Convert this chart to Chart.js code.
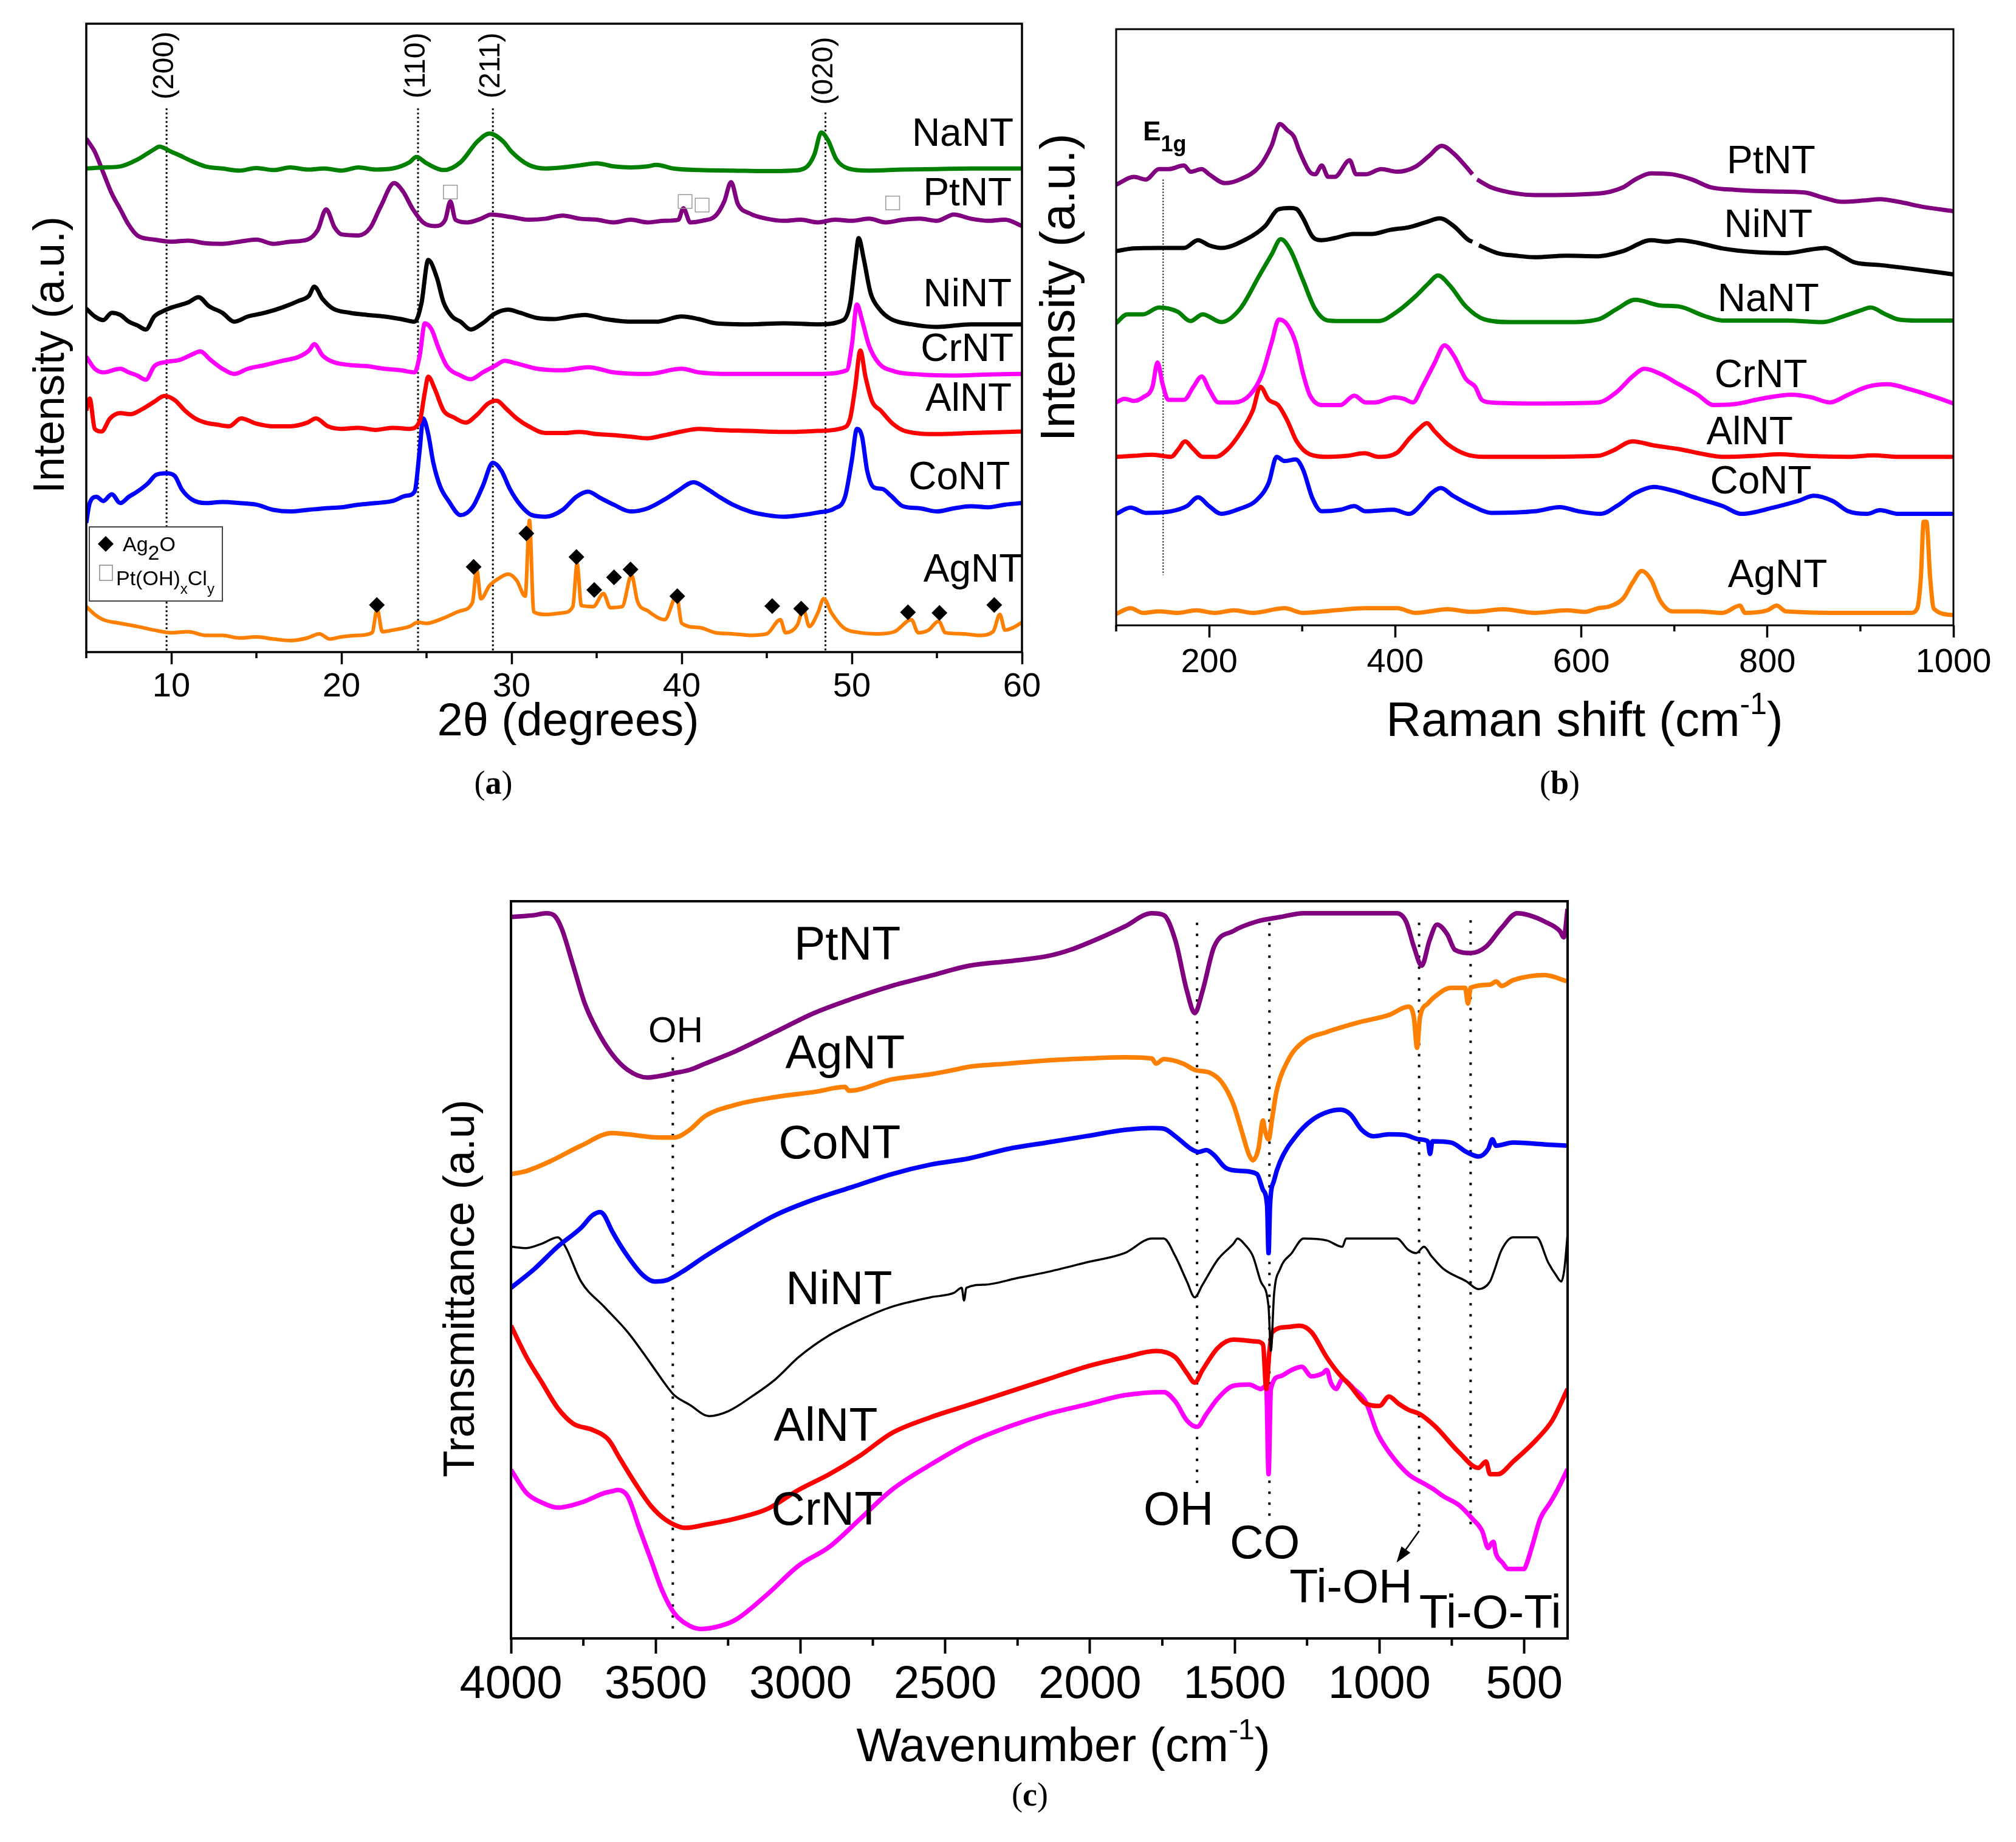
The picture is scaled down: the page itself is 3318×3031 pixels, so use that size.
<!DOCTYPE html>
<html>
<head>
<meta charset="utf-8">
<script src="https://cdn.jsdelivr.net/npm/chart.js@4"></script>
<style>
  body { margin: 0; background: #fff; }
  #page { position: relative; width: 3318px; height: 3031px; background: #fff; overflow: hidden; }
  canvas { position: absolute; }
</style>
</head>
<body>
<div id="page">
  <canvas id="xrd" width="1760" height="1340" style="left:0;top:0"></canvas>
  <canvas id="raman" width="1618" height="1340" style="left:1700px;top:0"></canvas>
  <canvas id="ftir" width="2118" height="1631" style="left:600px;top:1400px"></canvas>
</div>
<script>
// ---------- (a) XRD, 2theta vs stacked intensity (a.u.) ----------
const xrdTicks = [10, 20, 30, 40, 50, 60];
const xrdMinor = [5, 15, 25, 35, 45, 55];
const xrdNa = [[5,925],[6,927],[7,929],[8,942],[9,962],[9.3,967],[10,957],[10.5,950],[11,942],[12,929],[13,925],[14,921],[15,926],[16,922],[17,927],[18,923],[19,925],[20,921],[21,927],[22,923],[23,925],[24,937],[24.4,947],[25,935],[26,922],[27,937],[28,977],[28.7,992],[29.5,977],[30,957],[31,932],[32,925],[33,927],[34,931],[35,935],[36,929],[37,927],[38,929],[38.5,932],[39.5,925],[41,922],[43,921],[45,920],[46.5,921],[47.3,927],[47.8,952],[48.2,994],[48.6,979],[49.1,942],[49.8,925],[51,921],[53,923],[55,924],[57,925],[60,925]];
const xrdPt = [[5,982],[5.5,957],[6,917],[6.5,877],[7,847],[7.5,817],[8,797],[9,789],[10,785],[11,787],[12,782],[13,781],[14,785],[15,789],[16,781],[17,785],[18,789],[18.6,807],[19.1,847],[19.6,812],[20,799],[21,797],[21.7,812],[22.3,852],[23.1,897],[23.6,882],[24.2,847],[24.8,822],[25.5,815],[26.1,827],[26.4,862],[26.7,827],[27.4,822],[28.2,829],[28.8,837],[30,832],[31,827],[32,829],[33,835],[34,829],[35,827],[36,822],[37,827],[38,822],[39,825],[39.8,827],[40.1,849],[40.5,822],[41.2,825],[42,835],[42.5,862],[42.9,899],[43.3,857],[44,839],[45,829],[46,825],[47,827],[48,822],[49,827],[50,825],[51,829],[52,822],[53,827],[54,829],[55,825],[56,837],[57,829],[58,825],[59,827],[60,815]];
const xrdNi = [[5,657],[5.5,642],[6,635],[6.5,649],[7,645],[7.5,632],[8,625],[8.5,617],[9,642],[9.5,652],[10,659],[11,669],[11.6,679],[12.2,662],[13,649],[13.7,632],[14.5,642],[15.5,649],[16.5,659],[17.5,672],[18.1,682],[18.4,699],[18.9,675],[19.5,657],[20.5,649],[21.5,645],[22.5,642],[23.5,637],[24.3,632],[24.7,667],[25.1,750],[25.6,717],[26,669],[26.5,642],[27,632],[27.6,617],[28.3,629],[29,647],[29.8,655],[30.5,649],[31.5,639],[32.5,637],[33.5,642],[34.3,645],[35.5,637],[37,632],[38.5,632],[40,642],[41,637],[42,629],[44,627],[46,629],[48,627],[49.5,635],[49.9,667],[50.2,747],[50.4,792],[50.7,752],[51.1,687],[51.6,657],[52.3,637],[53.5,627],[55,622],[57,627],[60,627]];
const xrdCr = [[5,565],[5.5,542],[6,535],[7,542],[7.5,535],[8,529],[8.5,521],[9,547],[9.7,555],[10.5,559],[11.2,569],[11.7,575],[12.3,559],[13,542],[13.7,532],[14.5,542],[15.5,549],[16.5,557],[17.5,565],[18.1,577],[18.4,589],[18.9,567],[19.5,555],[20.5,549],[21.5,547],[22.5,542],[23.5,539],[24.3,535],[24.6,567],[24.9,629],[25.3,617],[25.7,582],[26.2,547],[27,529],[27.6,522],[28.3,535],[29,547],[29.6,557],[30.3,552],[31.5,542],[33,539],[34.5,545],[36,535],[38,532],[40,542],[41,535],[43,532],[45,532],[48,532],[49.7,539],[50,587],[50.3,665],[50.6,635],[51,587],[51.6,552],[52.5,537],[54,531],[56,529],[58,531],[60,532]];
const xrdAl = [[5,462],[5.2,485],[5.5,427],[5.9,422],[6.4,447],[7,457],[7.6,455],[8.3,465],[9,479],[9.6,490],[10.2,482],[10.8,462],[11.4,447],[12,439],[12.7,435],[13.4,432],[14.1,447],[15,437],[16,432],[17,432],[18,439],[18.5,447],[19.2,432],[20,427],[21,429],[22,425],[23,429],[24,427],[24.6,442],[24.9,497],[25.1,527],[25.5,502],[26,462],[26.6,449],[27.3,439],[28,455],[28.6,475],[29.1,481],[29.7,465],[30.3,447],[31,432],[32,419],[33,419],[34,421],[35,417],[36,415],[37,412],[38,409],[39,415],[40,422],[41,427],[42,425],[44,423],[46,421],[48,423],[49.5,429],[49.9,447],[50.2,507],[50.5,577],[50.8,527],[51.2,479],[51.7,462],[52.4,437],[53.2,422],[55,417],[57,419],[60,422]];
const xrdCo = [[5,247],[5.2,285],[5.6,297],[6,289],[6.5,302],[7,285],[7.5,297],[8,307],[8.6,322],[9.1,339],[9.7,342],[10.2,337],[10.6,312],[11.2,292],[12,285],[13,287],[14,285],[15,282],[16,272],[17,269],[18,272],[19,275],[20,277],[21,282],[22,285],[23,289],[23.8,299],[24.3,307],[24.6,387],[24.8,447],[25.1,417],[25.4,362],[25.8,317],[26.3,289],[27,262],[27.7,277],[28.3,317],[28.9,362],[29.4,347],[29.9,312],[30.5,282],[31.2,262],[32,259],[33,272],[33.8,297],[34.5,307],[35.2,295],[36,282],[37,269],[38,275],[39,292],[39.8,309],[40.7,325],[41.5,312],[42.2,297],[43,282],[44,269],[45,262],[46,259],[47,262],[48,267],[49,275],[49.6,297],[50,367],[50.3,427],[50.6,412],[50.9,347],[51.3,315],[51.8,312],[52.3,299],[53,279],[54,275],[55,269],[56,275],[57,279],[58,277],[59,282],[60,285]];
const xrdAg = [[5,87],[5.5,72],[6,62],[7,55],[8,49],[9,42],[10,37],[11,39],[12,32],[13,32],[14,27],[15,29],[16,25],[17,22],[18,27],[18.7,35],[19.3,25],[20,29],[21,32],[21.8,37],[22.1,82],[22.4,39],[23,42],[24,49],[24.5,57],[25,55],[26,65],[27,79],[27.7,95],[27.95,157],[28.2,102],[28.7,127],[29.3,142],[29.8,149],[30.3,137],[30.8,107],[31.05,252],[31.3,77],[32,72],[33,75],[33.6,87],[33.85,169],[34.1,89],[34.8,87],[35.4,112],[35.8,85],[36.5,87],[37.05,147],[37.4,97],[38,79],[39,62],[39.7,107],[40,55],[41,47],[42,37],[43,35],[44,32],[45,35],[45.8,62],[46.1,37],[46.8,52],[47.15,82],[47.5,49],[48,75],[48.35,102],[48.8,75],[49.5,47],[50.5,37],[51.5,35],[52.5,39],[53.5,62],[53.9,37],[54.5,42],[55.1,59],[55.5,37],[56.5,35],[57.5,32],[58.3,39],[58.7,72],[59,42],[59.5,47],[60,57]];
const ag2oPeaks = [[22.08,90],[27.77,163],[30.87,227],[33.81,182],[34.86,119],[36.02,143],[36.99,158],[39.74,107],[45.32,88],[47.02,83],[53.3,76],[55.15,75],[58.37,90]];
const ptClPeaks = [[26.4,880],[40.2,862],[41.2,855],[52.4,859]];
const xrdPlanes = [['(200)', 9.72], ['(110)', 24.5], ['(211)', 28.9], ['(020)', 48.45]];

// ---------- (b) Raman ----------
const ramanTicks = [200, 400, 600, 800, 1000];
const ramanMinor = [100, 300, 500, 700, 900];
const ramanPt = [[100,850],[119,865],[132,860],[146,880],[156,880],[173,887],[180,875],[192,880],[200,870],[217,853],[233,860],[254,885],[267,925],[276,967],[284,955],[291,943],[297,915],[308,875],[314,870],[321,887],[328,865],[335,865],[351,897],[358,870],[368,870],[385,880],[402,875],[422,885],[436,905],[450,925],[463,910],[476,885],[483,870],[485,null],[488,860],[503,845],[530,833],[550,830],[618,833],[645,845],[658,860],[675,872],[698,870],[719,860],[739,845],[766,840],[806,837],[840,835],[860,825],[880,817],[907,820],[921,822],[941,817],[968,807],[1000,799]];
const ramanNi = [[100,722],[119,727],[146,728],[173,728],[188,743],[200,733],[213,728],[240,745],[260,770],[274,802],[287,805],[294,803],[301,785],[311,750],[321,743],[335,747],[355,755],[375,755],[395,763],[415,768],[432,777],[448,785],[463,770],[479,743],[483,740],[486,null],[490,733],[510,718],[530,713],[550,710],[584,713],[618,712],[645,722],[675,743],[692,740],[705,743],[725,738],[752,727],[786,720],[820,718],[847,725],[862,728],[880,713],[894,700],[921,695],[954,688],[1000,677]];
const ramanNa = [[100,583],[112,600],[129,600],[146,613],[166,605],[180,587],[193,600],[213,585],[233,610],[254,675],[267,715],[277,745],[287,725],[301,665],[314,610],[328,588],[348,587],[382,587],[402,605],[422,635],[436,660],[446,675],[459,655],[476,615],[496,590],[523,585],[584,585],[618,590],[638,610],[658,628],[685,617],[705,615],[732,597],[752,588],[820,588],[860,585],[880,595],[901,608],[911,613],[927,600],[941,590],[961,588],[1000,588]];
const ramanCr = [[100,430],[109,437],[119,433],[129,440],[139,460],[144.5,507],[150,465],[156,435],[173,435],[183,460],[192,480],[200,455],[210,430],[227,430],[244,445],[257,485],[267,545],[275,590],[284,580],[293,545],[301,485],[308,445],[321,425],[341,425],[356,443],[368,430],[378,430],[399,440],[409,437],[419,430],[429,460],[442,505],[453,540],[463,520],[476,475],[486,460],[493,435],[503,430],[550,428],[618,430],[638,450],[655,480],[668,495],[685,485],[705,465],[725,445],[742,425],[766,427],[793,437],[826,445],[847,440],[867,430],[887,445],[907,460],[929,465],[954,455],[981,440],[1000,428]];
const ramanAl = [[100,325],[119,327],[139,329],[159,325],[167,340],[174,355],[183,340],[193,325],[207,325],[220,340],[233,370],[247,415],[255,460],[264,435],[274,425],[284,395],[294,355],[308,330],[328,325],[348,327],[367,332],[382,325],[402,333],[415,360],[426,380],[434,390],[442,375],[456,350],[476,330],[496,325],[550,325],[618,327],[634,337],[655,355],[678,347],[705,340],[732,330],[752,325],[786,327],[813,330],[840,327],[887,325],[914,328],[941,325],[1000,325]];
const ramanCo = [[100,215],[115.5,227],[132,217],[159,220],[176,230],[188,247],[200,230],[213,215],[233,225],[250,240],[264,275],[272.5,325],[281,317],[293,320],[301,300],[311,245],[321,220],[341,223],[356,230],[368,220],[398,223],[415,215],[429,235],[439,255],[449,265],[462,250],[483,230],[503,217],[550,220],[577,228],[597,220],[621,215],[638,230],[658,255],[678,267],[698,260],[725,245],[752,230],[772,215],[806,227],[833,240],[850,250],[870,240],[887,220],[907,215],[921,222],[941,215],[1000,215]];
const ramanAg = [[100,22],[115.5,33],[129,24],[146,27],[166,24],[186,29],[206,24],[227,29],[247,24],[281,33],[301,24],[335,29],[368,33],[402,33],[422,24],[456,31],[483,26],[516,31],[550,24],[584,29],[604,26],[618,33],[631,37],[645,52],[655,82],[665,105],[675,88],[685,47],[698,27],[725,27],[752,24],[770.5,38],[776,24],[800,29],[810,38],[820,27],[887,24],[954,24],[961,32],[965,92],[968,200],[971,200],[975,92],[979,32],[1000,20]];

// ---------- (c) FTIR, wavenumber vs stacked transmittance ----------
const ftirTicks = [4000, 3500, 3000, 2500, 2000, 1500, 1000, 500];
const ftirMinor = [3750, 3250, 2750, 2250, 1750, 1250, 750];
const ftirPt = [[4000,1142],[3919,1145],[3879,1148],[3852,1145],[3826,1125],[3785,1065],[3745,1005],[3705,965],[3651,925],[3597,900],[3530,888],[3490,890],[3436,895],[3383,900],[3329,910],[3222,930],[3087,960],[2953,990],[2819,1013],[2685,1033],[2551,1049],[2416,1065],[2282,1072],[2148,1080],[2068,1090],[1960,1110],[1880,1127],[1786,1148],[1745,1145],[1705,1105],[1665,1025],[1638,990],[1611,1025],[1571,1095],[1504,1120],[1423,1135],[1343,1142],[1262,1148],[1074,1148],[940,1148],[908,1135],[881,1095],[854,1065],[827,1105],[801,1130],[766,1115],[739,1090],[685,1085],[632,1095],[578,1125],[524,1148],[484,1145],[430,1135],[377,1120],[363,1110],[350,1155]];
const ftirAg = [[4000,735],[3946,740],[3866,755],[3758,780],[3651,800],[3597,798],[3490,793],[3436,793],[3383,805],[3329,827],[3222,845],[3087,857],[2953,865],[2846,873],[2832,867],[2685,885],[2551,893],[2470,900],[2416,905],[2282,910],[2148,915],[2014,918],[1880,920],[1786,918],[1772,910],[1745,917],[1678,910],[1638,900],[1584,895],[1544,880],[1504,845],[1477,805],[1450,765],[1437,757],[1418,775],[1402,820],[1396,805],[1383,790],[1370,825],[1356,865],[1316,915],[1262,945],[1182,960],[1074,975],[967,987],[900,1000],[881,983],[870,935],[860,983],[833,1005],[806,1017],[752,1030],[704,1030],[694,1005],[685,1030],[618,1035],[597,1040],[578,1033],[538,1042],[430,1050],[350,1040]];
const ftirCo = [[4000,555],[3919,585],[3839,620],[3758,650],[3718,670],[3691,675],[3678,670],[3651,645],[3597,605],[3544,575],[3503,565],[3463,567],[3410,580],[3329,605],[3222,635],[3087,670],[2953,695],[2819,715],[2685,735],[2551,750],[2416,760],[2282,775],[2148,785],[2014,795],[1880,805],[1786,808],[1745,807],[1705,795],[1651,775],[1625,770],[1598,773],[1571,765],[1531,745],[1477,740],[1423,735],[1402,710],[1388,685],[1383,610],[1378,685],[1364,725],[1343,755],[1289,795],[1235,820],[1182,833],[1134,837],[1101,830],[1061,805],[1021,795],[967,798],[913,797],[860,790],[833,787],[825,767],[817,787],[752,785],[699,770],[658,763],[624,775],[610,790],[597,780],[538,785],[430,782],[350,780]];
const ftirNi = [[4000,620],[3946,618],[3893,625],[3839,635],[3812,620],[3758,565],[3678,525],[3597,485],[3517,435],[3463,400],[3436,385],[3383,370],[3316,352],[3248,360],[3168,383],[3087,410],[3007,445],[2900,480],[2792,505],[2685,525],[2551,540],[2470,547],[2443,555],[2435,535],[2427,555],[2363,560],[2255,570],[2148,580],[2014,595],[1880,610],[1786,633],[1745,633],[1705,605],[1665,565],[1638,540],[1611,560],[1558,600],[1504,625],[1490,633],[1464,623],[1437,605],[1410,565],[1383,525],[1375,455],[1364,545],[1343,585],[1303,610],[1262,633],[1182,630],[1128,620],[1115,633],[1021,633],[940,633],[900,615],[873,610],[846,620],[820,605],[779,585],[699,565],[658,553],[618,565],[605,580],[578,615],[538,635],[457,635],[417,595],[390,575],[372,565],[361,585],[350,640]];
const ftirAl = [[4000,495],[3946,445],[3893,405],[3839,365],[3785,340],[3718,330],[3664,315],[3624,285],[3570,245],[3517,210],[3463,187],[3396,175],[3329,180],[3222,190],[3114,205],[3007,235],[2900,260],[2792,290],[2685,325],[2551,350],[2416,370],[2282,390],[2148,410],[2014,430],[1880,445],[1772,455],[1705,445],[1665,420],[1638,405],[1611,425],[1558,460],[1504,473],[1423,470],[1402,465],[1391,395],[1380,455],[1370,485],[1316,493],[1276,495],[1235,485],[1182,445],[1142,420],[1101,400],[1048,372],[1000,368],[967,383],[935,372],[900,362],[860,355],[806,335],[726,295],[658,270],[632,280],[618,260],[591,260],[538,280],[457,315],[403,345],[350,395]];
const ftirCr = [[4000,267],[3946,230],[3893,215],[3839,207],[3758,215],[3678,230],[3651,233],[3630,235],[3597,225],[3557,175],[3517,125],[3477,75],[3436,40],[3383,20],[3342,15],[3275,20],[3222,30],[3114,70],[3007,115],[2900,145],[2792,190],[2685,235],[2551,275],[2416,310],[2282,335],[2148,355],[2014,370],[1880,385],[1745,390],[1705,375],[1665,345],[1630,335],[1598,355],[1558,380],[1504,400],[1450,402],[1410,395],[1391,400],[1383,260],[1375,395],[1343,415],[1303,425],[1268,430],[1235,415],[1195,420],[1182,425],[1168,405],[1150,395],[1128,410],[1088,395],[1048,375],[1007,325],[967,295],[900,260],[846,245],[816,237],[779,225],[725,211],[680,190],[645,170],[624,143],[614,150],[606,153],[598,135],[575,120],[555,110],[500,110],[494,115],[470,150],[445,189],[410,215],[383,237],[350,268]];
const ftirMarks = [3441, 1630, 1380, 863, 685];

const SANS = "'Liberation Sans', Arial, Helvetica, sans-serif";
const SERIF = "'Liberation Serif', 'Times New Roman', serif";
Chart.defaults.font.family = SANS;
Chart.defaults.color = '#000';

function xy(pairs) { return pairs.map(([x, y]) => ({ x, y })); }

function curve(pairs, color, width) {
  return {
    data: xy(pairs), borderColor: color, borderWidth: width, pointRadius: 0,
    fill: false, cubicInterpolationMode: 'monotone', spanGaps: false, order: 2
  };
}

function baseOptions(o) {
  return {
    responsive: false, animation: false, devicePixelRatio: 1, events: [],
    layout: { padding: { left: 0, top: o.top, right: o.right, bottom: 0 } },
    plugins: { legend: { display: false }, tooltip: { enabled: false } },
    scales: {
      x: {
        type: 'linear', min: o.xmin, max: o.xmax, reverse: !!o.reverse,
        afterBuildTicks: s => { s.ticks = o.ticks.map(v => ({ value: v })); },
        afterFit: s => { s.height = o.xh; s.paddingLeft = 0; s.paddingRight = 0; },
        grid: { display: true, drawOnChartArea: false, drawTicks: true, tickLength: o.tickLen, tickWidth: o.tickW, tickColor: '#000' },
        border: { display: false },
        ticks: { autoSkip: false, maxRotation: 0, padding: o.tickPad, color: '#000', font: { size: o.tickFont, family: SANS }, callback: v => String(v) }
      },
      y: {
        type: 'linear', min: 0, max: o.ymax,
        afterFit: s => { s.width = o.yw; },
        grid: { display: false }, border: { display: false }, ticks: { display: false }
      }
    }
  };
}

// ---------- drawing helpers ----------
function drawText(ctx, s, x, y, size, opt = {}) {
  ctx.save();
  ctx.font = `${opt.weight || 'normal'} ${size}px ${opt.family || SANS}`;
  ctx.fillStyle = '#000';
  ctx.textAlign = opt.align || 'center';
  ctx.textBaseline = opt.baseline || 'middle';
  ctx.translate(x, y);
  if (opt.rotate) ctx.rotate(opt.rotate);
  ctx.fillText(s, 0, 0);
  ctx.restore();
}

// text made of runs (sub/superscripts), x centred (or left), y = baseline
function drawRuns(ctx, runs, x, y, align) {
  ctx.save();
  ctx.fillStyle = '#000';
  ctx.textBaseline = 'alphabetic';
  ctx.textAlign = 'left';
  let total = 0;
  runs.forEach(r => {
    ctx.font = `${r.weight || 'normal'} ${r.size}px ${r.family || SANS}`;
    r.w = ctx.measureText(r.t).width;
    total += r.w;
  });
  let cx = align === 'left' ? x : x - total / 2;
  runs.forEach(r => {
    ctx.font = `${r.weight || 'normal'} ${r.size}px ${r.family || SANS}`;
    ctx.fillText(r.t, cx, y + (r.dy || 0));
    cx += r.w;
  });
  ctx.restore();
}

function drawFrame(chart, lw) {
  const { ctx, chartArea: a } = chart;
  ctx.save();
  ctx.strokeStyle = '#000';
  ctx.lineWidth = lw;
  ctx.strokeRect(a.left, a.top, a.right - a.left, a.bottom - a.top);
  ctx.restore();
}

function drawMinor(chart, values, len, lw) {
  const { ctx, chartArea: a, scales: { x } } = chart;
  ctx.save();
  ctx.strokeStyle = '#000';
  ctx.lineWidth = lw;
  ctx.beginPath();
  values.forEach(v => {
    const p = x.getPixelForValue(v);
    ctx.moveTo(p, a.bottom);
    ctx.lineTo(p, a.bottom + len);
  });
  ctx.stroke();
  ctx.restore();
}

function vDotted(chart, xv, yTop, yBot, dash, lw) {
  const { ctx, scales: { x, y } } = chart;
  const p = x.getPixelForValue(xv);
  ctx.save();
  ctx.strokeStyle = '#000';
  ctx.lineWidth = lw;
  ctx.setLineDash(dash);
  ctx.beginPath();
  ctx.moveTo(p, y.getPixelForValue(yTop));
  ctx.lineTo(p, y.getPixelForValue(yBot));
  ctx.stroke();
  ctx.restore();
}

function panelTag(ctx, letter, x, y) {
  drawRuns(ctx, [
    { t: '(', size: 54, family: SERIF },
    { t: letter, size: 54, family: SERIF, weight: 'bold' },
    { t: ')', size: 54, family: SERIF }
  ], x, y);
}

// ---------- (a) ----------
const xrdLabels = [['NaNT', 59.5, 989], ['PtNT', 59.4, 875], ['NiNT', 59.4, 682], ['CrNT', 59.5, 577], ['AlNT', 59.4, 482], ['CoNT', 59.3, 332], ['AgNT', 60.05, 155]];

const xrdDecor = {
  id: 'xrdDecor',
  beforeDatasetsDraw(chart) {
    xrdPlanes.forEach(([, xv], i) => vDotted(chart, xv, i === 3 ? 1032 : 1040, 0, [3, 4], 3));
  },
  afterDraw(chart) {
    const { ctx, scales: { x, y } } = chart;
    drawFrame(chart, 3.5);
    drawMinor(chart, xrdMinor, 10, 3.5);
    xrdPlanes.forEach(([name, xv], i) => {
      drawText(ctx, name, x.getPixelForValue(xv) - 2, y.getPixelForValue(i === 3 ? 1112 : 1122), 48, { rotate: -Math.PI / 2 });
    });
    xrdLabels.forEach(([name, xv, yv]) => {
      drawText(ctx, name, x.getPixelForValue(xv), y.getPixelForValue(yv), 64, { align: 'right' });
    });
    // phase legend box
    ctx.save();
    ctx.fillStyle = '#fff';
    ctx.fillRect(147, 867, 219, 122);
    ctx.strokeStyle = '#444';
    ctx.lineWidth = 2;
    ctx.strokeRect(147, 867, 219, 122);
    ctx.fillStyle = '#000';
    ctx.beginPath();
    ctx.moveTo(161, 895); ctx.lineTo(174, 882); ctx.lineTo(187, 895); ctx.lineTo(174, 908);
    ctx.closePath(); ctx.fill();
    ctx.strokeStyle = '#888';
    ctx.lineWidth = 1.5;
    ctx.strokeRect(164, 930, 21, 25);
    ctx.restore();
    drawRuns(ctx, [{ t: 'Ag', size: 34 }, { t: '2', size: 34, dy: 14 }, { t: 'O', size: 34 }], 202, 907, 'left');
    drawRuns(ctx, [{ t: 'Pt(OH)', size: 34 }, { t: 'x', size: 24, dy: 14 }, { t: 'Cl', size: 34 }, { t: 'y', size: 24, dy: 14 }], 191, 963, 'left');
    // axis titles
    drawText(ctx, 'Intensity (a.u.)', 85, 584, 72, { rotate: -Math.PI / 2 });
    drawText(ctx, '2\u03b8 (degrees)', 935, 1189, 76);
    panelTag(ctx, 'a', 812, 1306);
  }
};

const xrdOpts = baseOptions({ top: 39, right: 78, yw: 142, xh: 267, xmin: 5, xmax: 60, ymax: 1202, ticks: xrdTicks, tickLen: 20, tickW: 3.5, tickPad: 4, tickFont: 56 });

new Chart(document.getElementById('xrd'), {
  type: 'line',
  data: {
    datasets: [
      { data: xy(ag2oPeaks), showLine: false, pointStyle: 'rectRot', pointRadius: 13, backgroundColor: '#000', borderColor: '#000', borderWidth: 0, order: 0 },
      { data: xy(ptClPeaks), showLine: false, pointStyle: 'rect', pointRadius: 16, backgroundColor: 'rgba(255,255,255,0)', borderColor: '#9a9a9a', borderWidth: 1.5, order: 0 },
      curve(xrdNa, '#008000', 7),
      curve(xrdPt, '#800080', 7),
      curve(xrdNi, '#000000', 7),
      curve(xrdCr, '#ff00ff', 7),
      curve(xrdAl, '#ff0000', 7),
      curve(xrdCo, '#0000ff', 7),
      curve(xrdAg, '#ff8000', 6)
    ]
  },
  options: xrdOpts,
  plugins: [xrdDecor]
});

// ---------- (b) ----------
const ramanLabels = [['PtNT', 804, 893], ['NiNT', 801, 770], ['NaNT', 801, 627], ['CrNT', 793, 480], ['AlNT', 781, 370], ['CoNT', 793, 275], ['AgNT', 811, 95]];

const ramanDecor = {
  id: 'ramanDecor',
  beforeDatasetsDraw(chart) {
    vDotted(chart, 150.5, 860, 97, [2, 3], 2);
  },
  afterDraw(chart) {
    const { ctx, scales: { x, y } } = chart;
    drawFrame(chart, 3);
    drawMinor(chart, ramanMinor, 10, 3.5);
    ramanLabels.forEach(([name, xv, yv]) => {
      drawText(ctx, name, x.getPixelForValue(xv), y.getPixelForValue(yv), 64);
    });
    drawRuns(ctx, [{ t: 'E', size: 44, weight: 'bold' }, { t: '1g', size: 36, weight: 'bold', dy: 18 }],
      x.getPixelForValue(128.9), y.getPixelForValue(935), 'left');
    drawText(ctx, 'Intensity (a.u.)', 46, 473, 80, { rotate: -Math.PI / 2 });
    drawRuns(ctx, [{ t: 'Raman shift (cm', size: 80 }, { t: '-1', size: 50, dy: -36 }, { t: ')', size: 80 }], 908, 1211);
    panelTag(ctx, 'b', 867, 1306);
  }
};

const ramanOpts = baseOptions({ top: 48, right: 103, yw: 137, xh: 311, xmin: 100, xmax: 1000, ymax: 1150, ticks: ramanTicks, tickLen: 20, tickW: 3.5, tickPad: 8, tickFont: 56 });

new Chart(document.getElementById('raman'), {
  type: 'line',
  data: {
    datasets: [
      curve(ramanPt, '#800080', 7),
      curve(ramanNi, '#000000', 7),
      curve(ramanNa, '#008000', 7),
      curve(ramanCr, '#ff00ff', 7),
      curve(ramanAl, '#ff0000', 7),
      curve(ramanCo, '#0000ff', 7),
      curve(ramanAg, '#ff8000', 7)
    ]
  },
  options: ramanOpts,
  plugins: [ramanDecor]
});

// ---------- (c) ----------
const ftirLabels = [['PtNT', 2838, 1095, 77], ['OH', 3431, 960, 60], ['AgNT', 2846, 923, 77], ['CoNT', 2865, 780, 77], ['NiNT', 2867, 550, 77], ['AlNT', 2913, 333, 77], ['CrNT', 2908, 200, 77], ['OH', 1694, 200, 77], ['CO', 1396, 147, 77]];
const ftirMarkSpan = [[920, 5], [1133, 235], [1133, 185], [1133, 170], [1137, 180]];

const ftirDecor = {
  id: 'ftirDecor',
  beforeDatasetsDraw(chart) {
    ftirMarks.forEach((wn, i) => vDotted(chart, wn, ftirMarkSpan[i][0], ftirMarkSpan[i][1], [4, 14], 4));
  },
  afterDraw(chart) {
    const { ctx, scales: { x, y } } = chart;
    drawFrame(chart, 4);
    drawMinor(chart, ftirMinor, 12, 4);
    ftirLabels.forEach(([name, xv, yv, size]) => {
      drawText(ctx, name, x.getPixelForValue(xv), y.getPixelForValue(yv), size);
    });
    drawText(ctx, 'Ti-OH', x.getPixelForValue(886), y.getPixelForValue(77), 77, { align: 'right' });
    drawText(ctx, 'Ti-O-Ti', x.getPixelForValue(372), y.getPixelForValue(37), 77, { align: 'right' });
    // arrow from the Ti-OH mark down to its label
    const x0 = x.getPixelForValue(863), y0 = y.getPixelForValue(170);
    const x1 = x.getPixelForValue(941), y1 = y.getPixelForValue(120);
    const ang = Math.atan2(y1 - y0, x1 - x0), head = 28;
    ctx.save();
    ctx.strokeStyle = '#000';
    ctx.fillStyle = '#000';
    ctx.lineWidth = 2.5;
    ctx.beginPath();
    ctx.moveTo(x0, y0);
    ctx.lineTo(x1 - Math.cos(ang) * head * 0.8, y1 - Math.sin(ang) * head * 0.8);
    ctx.stroke();
    ctx.beginPath();
    ctx.moveTo(x1, y1);
    ctx.lineTo(x1 - head * Math.cos(ang - 0.33), y1 - head * Math.sin(ang - 0.33));
    ctx.lineTo(x1 - head * Math.cos(ang + 0.33), y1 - head * Math.sin(ang + 0.33));
    ctx.closePath();
    ctx.fill();
    ctx.restore();
    drawText(ctx, 'Transmittance (a.u)', 160, 720, 72, { rotate: -Math.PI / 2 });
    drawRuns(ctx, [{ t: 'Wavenumber (cm', size: 78 }, { t: '-1', size: 48, dy: -36 }, { t: ')', size: 78 }], 1150, 1498);
    panelTag(ctx, 'c', 1095, 1571);
  }
};

const ftirOpts = baseOptions({ top: 83, right: 138, yw: 241, xh: 335, xmin: 350, xmax: 4000, reverse: true, ymax: 1167, ticks: ftirTicks, tickLen: 25, tickW: 4, tickPad: 6, tickFont: 76 });

new Chart(document.getElementById('ftir'), {
  type: 'line',
  data: {
    datasets: [
      curve(ftirPt, '#800080', 7.5),
      curve(ftirAg, '#ff8000', 7.5),
      curve(ftirCo, '#0000ff', 7.5),
      curve(ftirNi, '#000000', 3.5),
      curve(ftirAl, '#ff0000', 7.5),
      curve(ftirCr, '#ff00ff', 7.5)
    ]
  },
  options: ftirOpts,
  plugins: [ftirDecor]
});
</script>
</body>
</html>
